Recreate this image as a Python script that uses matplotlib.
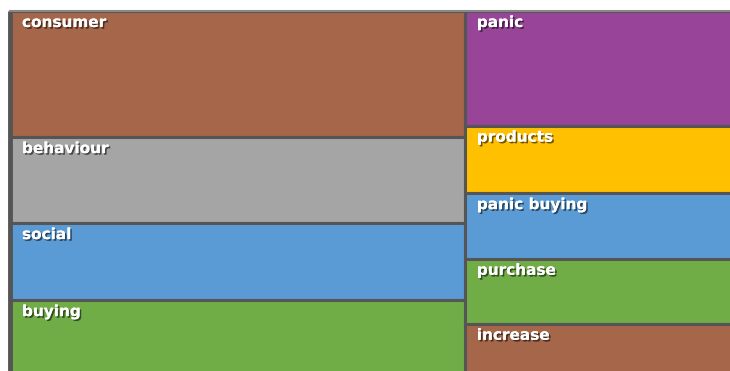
import matplotlib
matplotlib.use("Agg")
import matplotlib.pyplot as plt
from matplotlib.patches import Rectangle
import matplotlib.patheffects as pe

# data
left_words = ["consumer", "behaviour", "social", "buying"]
left_values = [573, 391, 350, 345]
left_colors = ["#A5664A", "#A5A5A5", "#5B9BD5", "#70AD47"]
right_words = ["panic", "products", "panic buying", "purchase", "increase"]
right_values = [314, 185, 180, 178, 143]
right_colors = ["#984498", "#FFC000", "#5B9BD5", "#70AD47", "#A5664A"]

W, H = 730, 371
fig = plt.figure(figsize=(W / 100, H / 100), dpi=100)
fig.patch.set_facecolor("white")

# treemap region in pixels (extends past the right and bottom edges)
x0, y0, tw, th = 10, 11, 729, 365
ax = fig.add_axes([x0 / W, (H - y0 - th) / H, tw / W, th / H])
ax.set_xlim(0, 1)
ax.set_ylim(1, 0)
ax.axis("off")

total = sum(left_values) + sum(right_values)
border = "#555555"
shadow = [pe.withSimplePatchShadow(offset=(1.2, -1.2), shadow_rgbFace="black", alpha=0.55), pe.Normal()]

def column(xs, width, words, values, colors):
    s = sum(values)
    y = 0
    for w, v, c in zip(words, values, colors):
        h = v / s
        ax.add_patch(Rectangle((xs, y), width, h, facecolor=c, edgecolor=border, linewidth=2.2))
        ax.text(xs + 12 / tw, y + 4 / th, w, color="white", fontsize=11, fontweight="bold",
                family="DejaVu Sans", va="top", ha="left", path_effects=shadow)
        y += h

lw = sum(left_values) / total
column(0, lw, left_words, left_values, left_colors)
column(lw, 1 - lw, right_words, right_values, right_colors)
ax.plot([0, 0], [0, 1], color=border, linewidth=3.5, solid_capstyle="butt", clip_on=False)
ax.plot([0, 1], [0, 0], color="#888888", linewidth=1.5, clip_on=False)

fig.savefig("out.png", dpi=100, facecolor="white")
